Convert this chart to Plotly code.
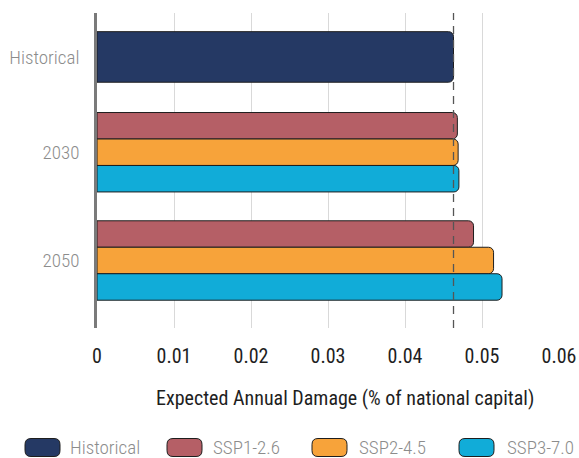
import plotly.graph_objects as go

# Expected annual damage (% of national capital)
periods = ["Historical", "2030", "2050"]
historical_value = [0.0463]
ssp_names = ["SSP1-2.6", "SSP2-4.5", "SSP3-7.0"]
ssp_2030 = [0.0468, 0.0469, 0.0470]
ssp_2050 = [0.0489, 0.0515, 0.0526]
x_ticks = [0, 0.01, 0.02, 0.03, 0.04, 0.05, 0.06]
x_tick_text = ["0", "0.01", "0.02", "0.03", "0.04", "0.05", "0.06"]
x_title = "Expected Annual Damage (% of national capital)"

# layout of the band positions on the (reversed) numeric y axis
period_pos = [1.66, 5.26, 9.35]
hist_width = 1.91
ssp_width = 1.0
ssp_offsets = [-1.5, -0.5, 0.5]
y_range = [11.9, 0.0]

colors = {
    "Historical": "#253964",
    "SSP1-2.6": "#b55f66",
    "SSP2-4.5": "#f7a33a",
    "SSP3-7.0": "#11acd8",
}
outline = dict(color="#1e1e1e", width=1)
FONT = "Roboto Condensed, Roboto, sans-serif"
LIGHT = 300

fig = go.Figure()

fig.add_trace(go.Bar(
    x=historical_value, y=[period_pos[0]], orientation="h",
    width=hist_width, name="Historical",
    marker=dict(color=colors["Historical"], line=outline),
    showlegend=False,
))

for i, name in enumerate(ssp_names):
    fig.add_trace(go.Bar(
        x=[ssp_2030[i], ssp_2050[i]], y=period_pos[1:], orientation="h",
        width=ssp_width, offset=ssp_offsets[i], name=name,
        marker=dict(color=colors[name], line=outline),
        showlegend=False,
    ))

# historical reference line
fig.add_shape(type="line", xref="x", yref="paper",
              x0=historical_value[0], x1=historical_value[0], y0=0, y1=1,
              line=dict(color="#555555", width=1.3, dash="8px,6px"), layer="above")

# plot-area geometry (pixels) used to place the title and custom legend
W, H = 579, 458
L, R, T, B = 97, 20, 13, 130
pw, ph = W - L - R, H - T - B


def px_x(p):
    return (p - L) / pw


def px_y(p):
    return (H - B - p) / ph


def rounded_rect(x0, y0, x1, y1, r):
    rx, ry = r / pw, r / ph
    a0, a1 = px_x(x0), px_x(x1)
    b0, b1 = px_y(y1), px_y(y0)  # b0 bottom, b1 top in paper units
    return (f"M {a0+rx},{b1} L {a1-rx},{b1} Q {a1},{b1} {a1},{b1-ry} "
            f"L {a1},{b0+ry} Q {a1},{b0} {a1-rx},{b0} L {a0+rx},{b0} "
            f"Q {a0},{b0} {a0},{b0+ry} L {a0},{b1-ry} Q {a0},{b1} {a0+rx},{b1} Z")


# x-axis title
fig.add_annotation(xref="paper", yref="paper", x=px_x(345), y=px_y(398),
                   text=x_title, showarrow=False, xanchor="center", yanchor="middle",
                   font=dict(family=FONT, size=20, color="#1e1e1e"))

legend_items = ["Historical"] + ssp_names
legend_sym_x = [25, 167, 312, 459]
legend_txt_x = [68, 211, 357, 505]
sym_w, sym_top, sym_bot = 35, 438.5, 456.5
for name, sx, tx in zip(legend_items, legend_sym_x, legend_txt_x):
    fig.add_shape(type="path", xref="paper", yref="paper",
                  path=rounded_rect(sx, sym_top, sx + sym_w, sym_bot, 6),
                  fillcolor=colors[name], line=dict(color="#1e1e1e", width=1))
    fig.add_annotation(xref="paper", yref="paper", x=px_x(tx), y=px_y(447.5),
                       text=name, showarrow=False, xanchor="left", yanchor="middle",
                       font=dict(family=FONT, size=19, color="#8c8c8c", weight=LIGHT))

fig.update_layout(
    width=W, height=H,
    margin=dict(l=L, r=R, t=T, b=B),
    plot_bgcolor="white", paper_bgcolor="white",
    barmode="overlay",
    barcornerradius=5,
    font=dict(family=FONT),
    xaxis=dict(
        range=[0, 0.06], tickvals=x_ticks, ticktext=x_tick_text,
        showgrid=True, gridcolor="#d9d9d9", gridwidth=1.3,
        zeroline=False, showline=False, automargin=False,
        ticks="", ticklabelstandoff=14,
        tickfont=dict(family=FONT, size=20, color="#1e1e1e"),
    ),
    yaxis=dict(
        range=y_range, tickvals=period_pos, ticktext=periods,
        showgrid=False, zeroline=False, automargin=False,
        showline=True, linecolor="#7a7a7a", linewidth=2.5,
        ticks="", ticklabelstandoff=11,
        tickfont=dict(family=FONT, size=19, color="#8c8c8c", weight=LIGHT),
    ),
)

fig.write_html("out.html")
